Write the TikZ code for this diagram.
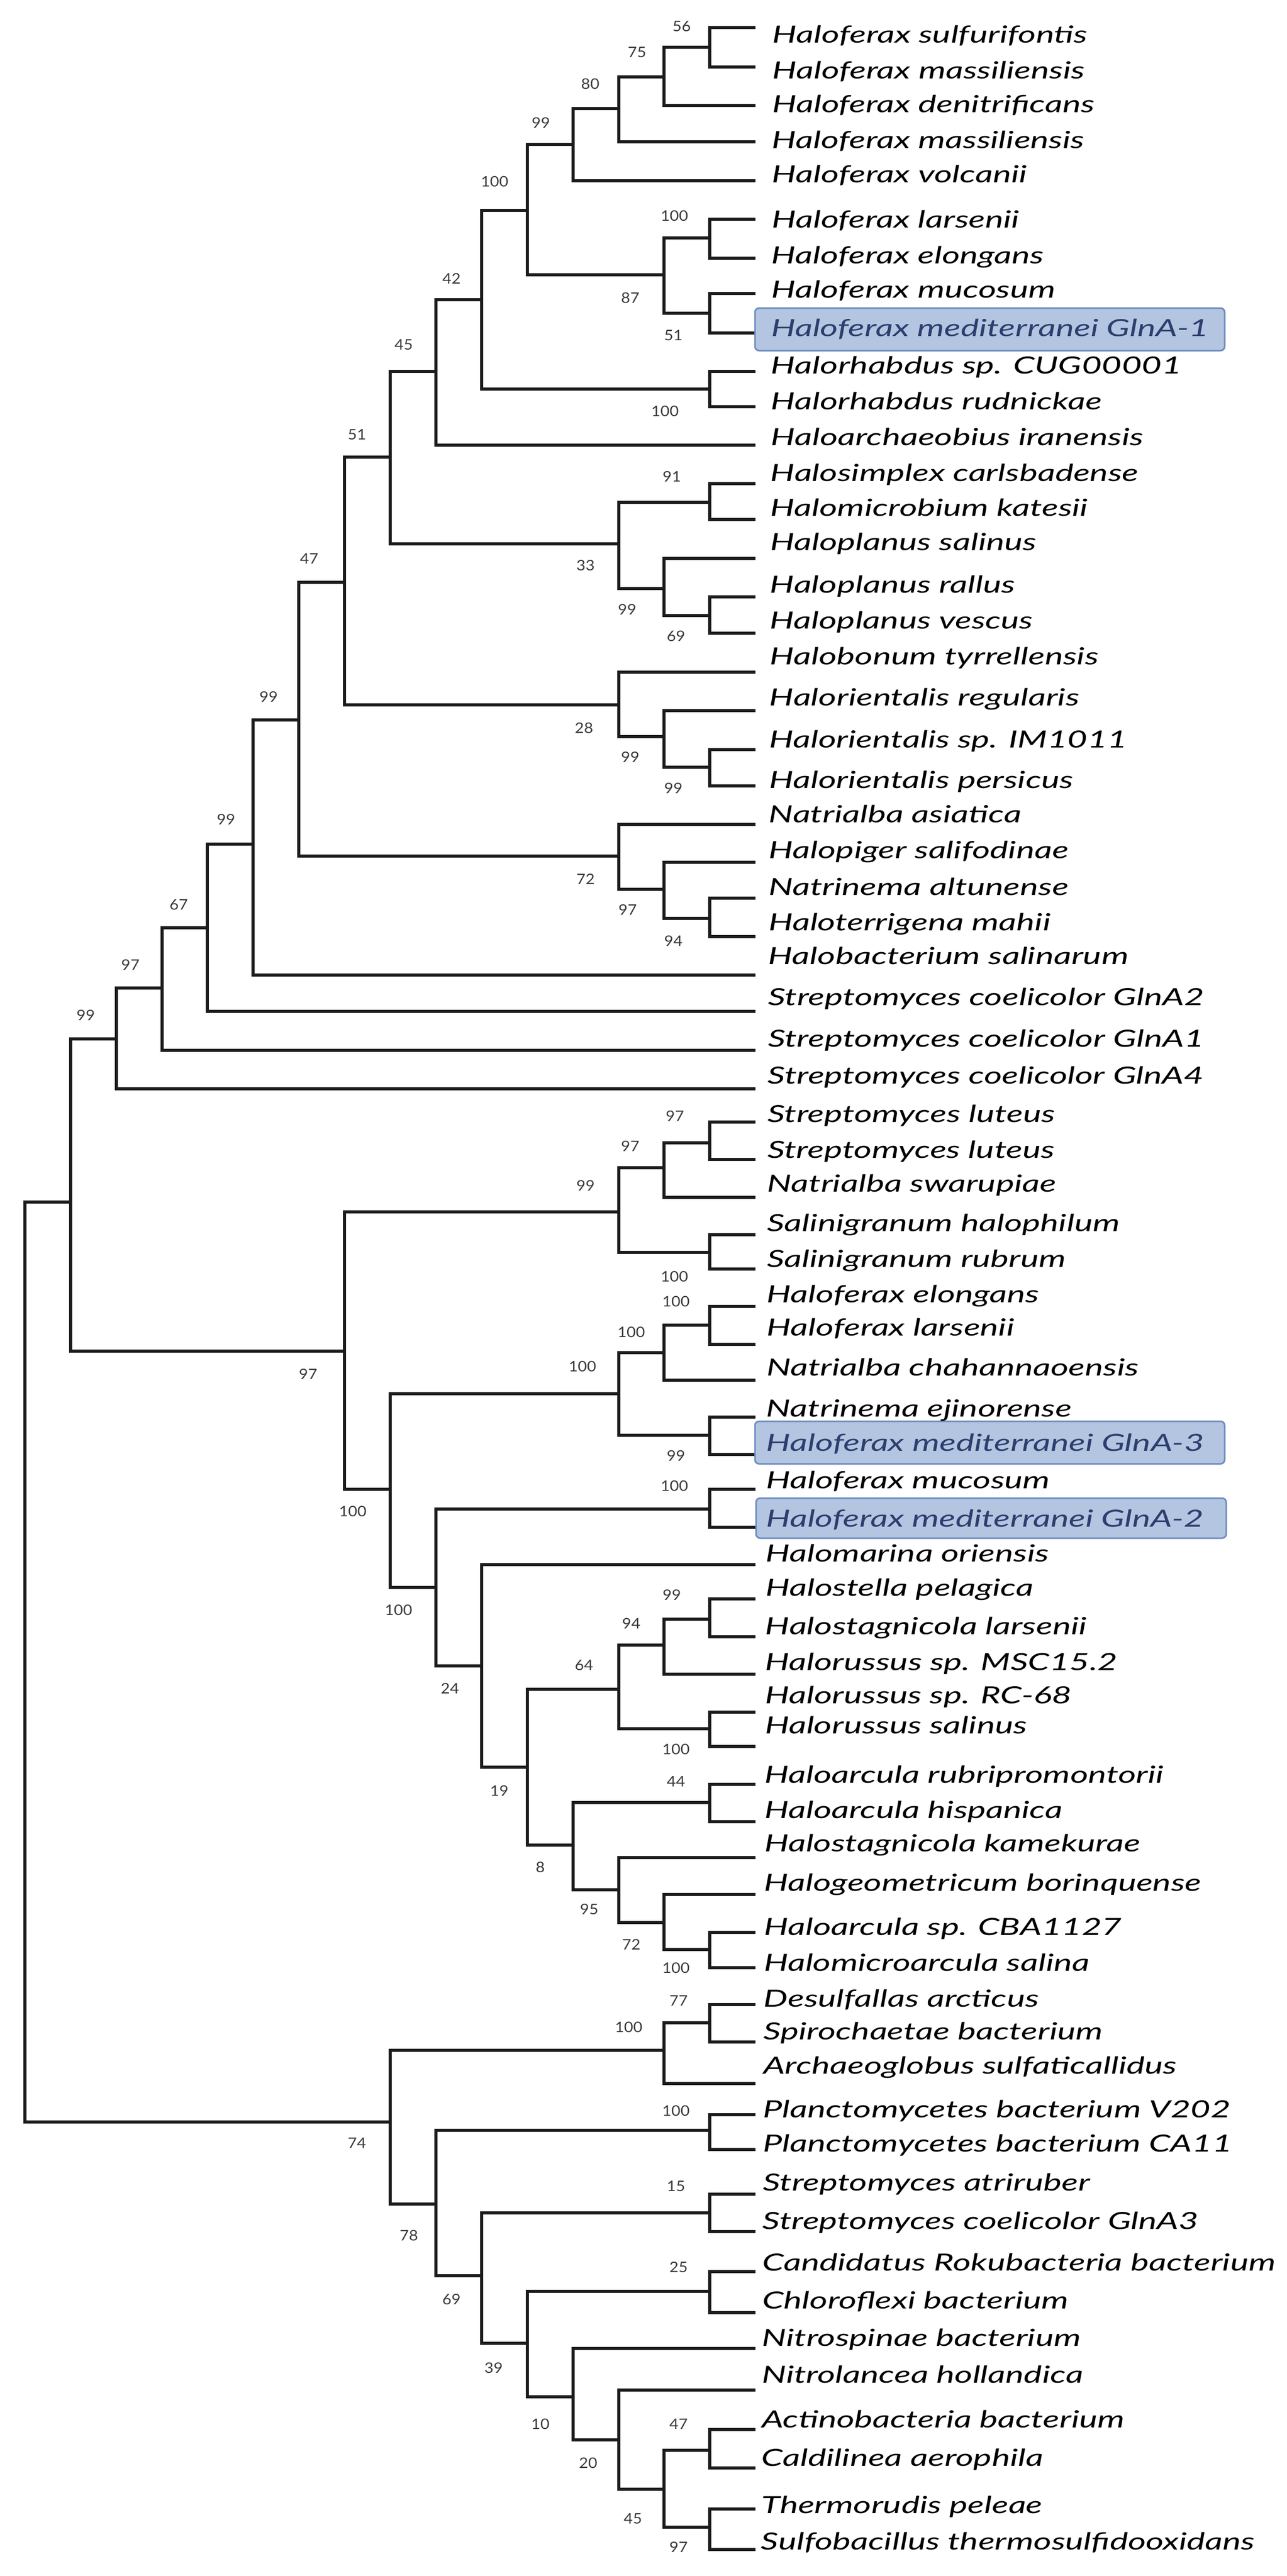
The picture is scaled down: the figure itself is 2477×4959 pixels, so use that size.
\documentclass[tikz,border=0pt]{standalone}
\usepackage{fontspec}
\newfontfamily\latofam{Lato}
\definecolor{treeblack}{HTML}{1C1C1C}
\definecolor{numgrey}{HTML}{3A3A3A}
\definecolor{boxfill}{HTML}{B3C5E0}
\definecolor{boxdraw}{HTML}{6C8BC0}
\definecolor{boxtext}{HTML}{2C3E6E}
\newlength\reflen
\newcommand\labfont{\latofam\fontsize{9.1}{10}\itshape}
\newcommand\numfont{\latofam\fontsize{5.6}{6}\selectfont}
\newcommand\lab[1]{\scalebox{\labstretch}[1]{\labfont #1}}
\newcommand\bsn[1]{\scalebox{1.08}[1]{\numfont #1}}
\begin{document}
\settowidth\reflen{\labfont Sulfobacillus thermosulfidooxidans}%
\pgfmathsetmacro\labstretch{190/\reflen}%
\begin{tikzpicture}[x=0.2pt,y=-0.2pt,
  branch/.style={draw=treeblack,line width=1.2pt},
  leaflab/.style={anchor=base west,inner sep=0pt,text=black},
  boxlab/.style={anchor=base west,inner sep=0pt,text=boxtext},
  bs/.style={inner sep=0pt,anchor=center,text=numgrey},
  hlbox/.style={fill=boxfill,draw=boxdraw,line width=0.6pt,rounded corners=1.6pt}]
\fill[white] (0,0) rectangle (2477,4959);
\useasboundingbox (0,0) rectangle (2477,4959);

% leaves
\foreach \i/\y in {1/53,2/129,3/203,4/273,5/348,6/422,7/497,8/565,9/641,10/715,11/783,12/857,13/931,14/1000,15/1075,16/1149,17/1219,18/1294,19/1368,20/1443,21/1513,22/1587,23/1660,24/1729,25/1803,26/1877,27/1947,28/2022,29/2096,30/2160,31/2232,32/2305,33/2377,34/2443,35/2515,36/2588,37/2657,38/2728,39/2800,40/2867,41/2940,42/3012,43/3078,44/3151,45/3223,46/3296,47/3362,48/3435,49/3507,50/3576,51/3647,52/3720,53/3788,54/3859,55/3931,56/4011,57/4071,58/4138,59/4224,60/4296,61/4373,62/4452,63/4521,64/4601,65/4677,66/4751,67/4830,68/4908}
  {\coordinate (L\i) at (1454,\y);}

% internal nodes
\foreach \nm/\x/\y in {n56/1366.3/91,n75/1278.4/148,n80/1190.5/209,n99a/1102.6/278,n100b/1366.3/458,n51/1366.3/603,n87/1278.4/529,n100a/1014.7/405,n100c/1366.3/749,n42/926.8/577,n45/838.9/715,n91/1366.3/967,n69/1366.3/1185,n99c/1278.4/1133,n33/1190.5/1047,n51b/751.0/880,n99d/1366.3/1477,n99e/1278.4/1418,n28/1190.5/1357,n47/663.1/1121,n94/1366.3/1768,n97a/1278.4/1712,n72/1190.5/1648,n99f/575.2/1386,n99g/487.3/1625,n67/399.4/1786,n97b/311.5/1902,n99h/223.6/2000,n97e/1366.3/2200,n97d/1278.4/2248,n100d/1366.3/2411,n99i/1190.5/2333,n100h/1366.3/2551,n100g/1278.4/2604,n99j/1366.3/2763,n100f/1190.5/2683,n100j/1366.3/2905,n99k/1366.3/3117,n94b/1278.4/3167,n100k/1366.3/3328,n64/1190.5/3252,n44/1366.3/3470,n100l/1366.3/3753,n72b/1278.4/3701,n95/1190.5/3638,n8/1102.6/3552,n19/1014.7/3402,n24/926.8/3207,n100i/838.9/3056,n100e/751.0/2867,n97c/663.1/2601,n1/135.7/2314,n77/1366.3/3894,n100m/1278.4/3947,n100n/1366.3/4101,n15/1366.3/4260,n25/1366.3/4411,n47b/1366.3/4717,n97f/1366.3/4865,n45b/1278.4/4792,n20/1190.5/4697,n10/1102.6/4614,n39/1014.7/4511,n69b/926.8/4381,n78/838.9/4243,n74/751.0/4085,root/47.8/3200}
  {\coordinate (\nm) at (\x,\y);}

% branches
\foreach \p/\a/\b in {n56/L1/L2,n75/n56/L3,n80/n75/L4,n99a/n80/L5,n100b/L6/L7,n51/L8/L9,n87/n100b/n51,n100a/n99a/n87,n100c/L10/L11,n42/n100a/n100c,n45/n42/L12,n91/L13/L14,n69/L16/L17,n99c/L15/n69,n33/n91/n99c,n51b/n45/n33,n99d/L20/L21,n99e/L19/n99d,n28/L18/n99e,n47/n51b/n28,n94/L24/L25,n97a/L23/n94,n72/L22/n97a,n99f/n47/n72,n99g/n99f/L26,n67/n99g/L27,n97b/n67/L28,n99h/n97b/L29,n97e/L30/L31,n97d/n97e/L32,n100d/L33/L34,n99i/n97d/n100d,n100h/L35/L36,n100g/n100h/L37,n99j/L38/L39,n100f/n100g/n99j,n100j/L40/L41,n99k/L43/L44,n94b/n99k/L45,n100k/L46/L47,n64/n94b/n100k,n44/L48/L49,n100l/L52/L53,n72b/L51/n100l,n95/L50/n72b,n8/n44/n95,n19/n64/n8,n24/L42/n19,n100i/n100j/n24,n100e/n100f/n100i,n97c/n99i/n100e,n1/n99h/n97c,n77/L54/L55,n100m/n77/L56,n100n/L57/L58,n15/L59/L60,n25/L61/L62,n47b/L65/L66,n97f/L67/L68,n45b/n47b/n97f,n20/L64/n45b,n10/L63/n20,n39/n25/n10,n69b/n15/n39,n78/n100n/n69b,n74/n100m/n78,root/n1/n74}
  {\draw[branch] (\p) |- (\a) (\p) |- (\b);}

% bootstrap values
\foreach \nm/\bx/\by/\v in {56/1312/51/56,75/1226/101/75,80/1136/161/80,99a/1041/236/99,100a/952/349/100,100b/1298/415/100,51/1296/646/51,87/1213/573/87,100c/1280/791/100,42/869/536/42,45/777/664/45,51b/687/837/51,91/1293/917/91,69/1301/1224/69,99c/1207/1173/99,33/1127/1088/33,47/595/1075/47,99d/1296/1517/99,99e/1213/1457/99,28/1124/1401/28,99f/517/1341/99,99g/435/1577/99,72/1127/1692/72,94/1296/1811/94,97a/1208/1751/97,67/344/1742/67,97b/251/1857/97,99h/165/1954/99,97e/1299/2148/97,97d/1213/2206/97,100d/1298/2457/100,99i/1127/2282/99,97c/593/2645/97,100e/679/2909/100,100f/1121/2630/100,100g/1215/2564/100,100h/1301/2505/100,99j/1301/2802/99,100i/767/3099/100,100j/1298/2860/100,24/866/3250/24,19/961/3447/19,64/1124/3206/64,94b/1215/3125/94,99k/1293/3070/99,100k/1301/3367/100,8/1040/3594/8,44/1301/3429/44,95/1134/3675/95,72b/1215/3743/72,100l/1301/3788/100,74/687/4125/74,100m/1210/3902/100,77/1306/3851/77,78/787/4303/78,100n/1301/4063/100,69b/869/4426/69,15/1301/4209/15,39/950/4558/39,25/1306/4364/25,10/1040/4666/10,20/1132/4741/20,45b/1218/4849/45,47b/1306/4666/47,97f/1306/4903/97}
  {\node[bs] (b\nm) at (\bx,\by) {\bsn{\v}};}

% highlight boxes
\draw[hlbox] (1453,593) rectangle (2357,675);
\draw[hlbox] (1453,2736) rectangle (2357,2818);
\draw[hlbox] (1455,2884) rectangle (2360,2961);

% leaf labels
\foreach \i/\ty/\nmtext in {1/66/Haloferax sulfurifontis,2/135/Haloferax massiliensis,3/200/Haloferax denitrificans,4/269/Haloferax massiliensis,5/335/Haloferax volcanii,6/422/Haloferax larsenii,7/491/Haloferax elongans,8/557/Haloferax mucosum,10/703/Halorhabdus sp. CUG00001,11/772/Halorhabdus rudnickae,12/841/Haloarchaeobius iranensis,13/910/Halosimplex carlsbadense,14/977/Halomicrobium katesii,15/1043/Haloplanus salinus,16/1125/Haloplanus rallus,17/1194/Haloplanus vescus,18/1263/Halobonum tyrrellensis,19/1342/Halorientalis regularis,20/1423/Halorientalis sp. IM1011,21/1501/Halorientalis persicus,22/1567/Natrialba asiatica,23/1636/Halopiger salifodinae,24/1707/Natrinema altunense,25/1775/Haloterrigena mahii,26/1840/Halobacterium salinarum,27/1919/Streptomyces coelicolor GlnA2,28/1999/Streptomyces coelicolor GlnA1,29/2070/Streptomyces coelicolor GlnA4,30/2144/Streptomyces luteus,31/2213/Streptomyces luteus,32/2278/Natrialba swarupiae,33/2354/Salinigranum halophilum,34/2423/Salinigranum rubrum,35/2491/Haloferax elongans,36/2555/Haloferax larsenii,37/2632/Natrialba chahannaoensis,38/2711/Natrinema ejinorense,40/2849/Haloferax mucosum,42/2990/Halomarina oriensis,43/3056/Halostella pelagica,44/3130/Halostagnicola larsenii,45/3199/Halorussus sp. MSC15.2,46/3263/Halorussus sp. RC-68,47/3321/Halorussus salinus,48/3416/Haloarcula rubripromontorii,49/3484/Haloarcula hispanica,50/3548/Halostagnicola kamekurae,51/3624/Halogeometricum borinquense,52/3709/Haloarcula sp. CBA1127,53/3778/Halomicroarcula salina,54/3847/Desulfallas arcticus,55/3910/Spirochaetae bacterium,56/3976/Archaeoglobus sulfaticallidus,57/4060/Planctomycetes bacterium V202,58/4126/Planctomycetes bacterium CA11,59/4201/Streptomyces atriruber,60/4275/Streptomyces coelicolor GlnA3,61/4355/Candidatus Rokubacteria bacterium,62/4428/Chloroflexi bacterium,63/4500/Nitrospinae bacterium,64/4571/Nitrolancea hollandica,65/4657/Actinobacteria bacterium,66/4731/Caldilinea aerophila,67/4822/Thermorudis peleae,68/4892/Sulfobacillus thermosulfidooxidans}
  {\pgfmathsetmacro\lx{1486-0.0045*\ty}
   \pgfmathsetmacro\ly{\ty+16}
   \node[leaflab] (t\i) at (\lx,\ly) {\lab{\nmtext}};}

\node[boxlab] (t9) at (1483,647) {\lab{Haloferax mediterranei GlnA-1}};
\node[boxlab] (t39) at (1473.5,2793) {\lab{Haloferax mediterranei GlnA-3}};
\node[boxlab] (t41) at (1473,2939) {\lab{Haloferax mediterranei GlnA-2}};
\end{tikzpicture}
\end{document}
